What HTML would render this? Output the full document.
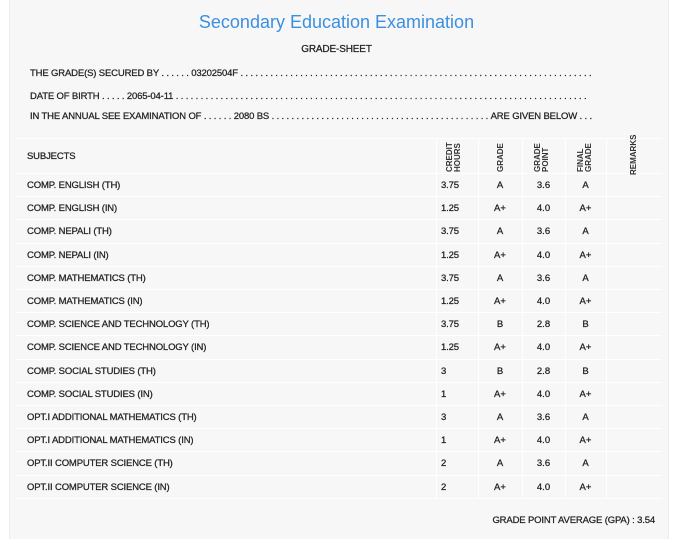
<!DOCTYPE html>
<html><head><meta charset="utf-8"><style>
body{margin:0;width:673px;height:539px;background:#fff;position:relative;overflow:hidden;font-family:"Liberation Sans Narrow","Liberation Sans",sans-serif;color:#222;}
.panel{position:absolute;left:9px;top:0;width:658px;height:539px;background:#f7f7f7;border-left:1px solid #ececec;border-right:1px solid #ececec;}
.t,.c,.dl{-webkit-text-stroke:0.25px #222;}
.t{position:absolute;font-size:9.5px;letter-spacing:-0.15px;white-space:nowrap;line-height:12px;}
.title{position:absolute;left:0;width:673px;top:12px;text-align:center;font-family:"Liberation Sans",sans-serif;font-size:18px;color:#3b8fe0;}
.hl{position:absolute;left:16px;width:646px;height:1px;background:#fff;}
.vl{position:absolute;width:1px;background:#fff;top:138px;height:361px;}
.c{position:absolute;font-size:9.5px;text-align:center;line-height:12px;}
.rot{position:absolute;font-family:"Liberation Sans",sans-serif;font-weight:bold;font-size:8px;line-height:8px;transform:rotate(-90deg);transform-origin:left top;white-space:nowrap;text-align:left;color:#333;}
.dl{position:absolute;left:30px;display:flex;font-size:9.5px;letter-spacing:-0.15px;line-height:12px;white-space:nowrap;}
.dl .f{flex:1;overflow:hidden;}
</style></head><body>
<div class="panel"></div>
<div class="title">Secondary Education Examination</div>
<div class="t" style="left:0;width:673px;text-align:center;top:44px;font-size:10px">GRADE-SHEET</div>
<div class="dl" style="top:68px;width:563px"><span>THE GRADE(S) SECURED BY . . . . . . 03202504F&nbsp;</span><span class="f">. . . . . . . . . . . . . . . . . . . . . . . . . . . . . . . . . . . . . . . . . . . . . . . . . . . . . . . . . . . . . . . . . . . . . . . . . . . . . . . . .</span></div>
<div class="dl" style="top:91px;width:557px"><span>DATE OF BIRTH . . . . . 2065-04-11&nbsp;</span><span class="f">. . . . . . . . . . . . . . . . . . . . . . . . . . . . . . . . . . . . . . . . . . . . . . . . . . . . . . . . . . . . . . . . . . . . . . . . . . . . . . . . . . . . . . . .</span></div>
<div class="dl" style="top:111px;width:562px"><span>IN THE ANNUAL SEE EXAMINATION OF . . . . . . 2080 BS&nbsp;</span><span class="f">. . . . . . . . . . . . . . . . . . . . . . . . . . . . . . . . . . . . . . . . . . . . . . . . . . . . . . . . . . . .</span><span>ARE GIVEN BELOW . . .</span></div>
<div class="hl" style="top:138px"></div>
<div class="hl" style="top:173px"></div>
<div class="vl" style="left:436px"></div><div class="vl" style="left:478px"></div><div class="vl" style="left:522px"></div><div class="vl" style="left:565px"></div><div class="vl" style="left:606px"></div>
<div class="t" style="left:27px;top:151px">SUBJECTS</div>
<div class="rot" style="left:446px;top:172px;width:34px">CREDIT<br>HOURS</div>
<div class="rot" style="left:497px;top:172px;width:30px">GRADE</div>
<div class="rot" style="left:534px;top:172px;width:30px">GRADE<br>POINT</div>
<div class="rot" style="left:577px;top:172px;width:30px">FINAL<br>GRADE</div>
<div class="rot" style="left:630px;top:175px;width:38px">REMARKS</div>
<div id="rows"></div>
<script>
var d=[["COMP. ENGLISH (TH)","3.75","A","3.6","A"],["COMP. ENGLISH (IN)","1.25","A+","4.0","A+"],["COMP. NEPALI (TH)","3.75","A","3.6","A"],["COMP. NEPALI (IN)","1.25","A+","4.0","A+"],["COMP. MATHEMATICS (TH)","3.75","A","3.6","A"],["COMP. MATHEMATICS (IN)","1.25","A+","4.0","A+"],["COMP. SCIENCE AND TECHNOLOGY (TH)","3.75","B","2.8","B"],["COMP. SCIENCE AND TECHNOLOGY (IN)","1.25","A+","4.0","A+"],["COMP. SOCIAL STUDIES (TH)","3","B","2.8","B"],["COMP. SOCIAL STUDIES (IN)","1","A+","4.0","A+"],["OPT.I ADDITIONAL MATHEMATICS (TH)","3","A","3.6","A"],["OPT.I ADDITIONAL MATHEMATICS (IN)","1","A+","4.0","A+"],["OPT.II COMPUTER SCIENCE (TH)","2","A","3.6","A"],["OPT.II COMPUTER SCIENCE (IN)","2","A+","4.0","A+"]];
var h="";
d.forEach(function(r,i){var y=173+i*23.2;
h+='<div class="t" style="left:27px;top:'+(y+7)+'px">'+r[0]+'</div>';
h+='<div class="t" style="left:441px;top:'+(y+7)+'px">'+r[1]+'</div>';
h+='<div class="c" style="left:478px;width:44px;top:'+(y+7)+'px">'+r[2]+'</div>';
h+='<div class="c" style="left:522px;width:43px;top:'+(y+7)+'px">'+r[3]+'</div>';
h+='<div class="c" style="left:565px;width:41px;top:'+(y+7)+'px">'+r[4]+'</div>';
h+='<div class="hl" style="top:'+Math.round(y+23.2)+'px"></div>';});
document.getElementById("rows").innerHTML=h;
</script>
<div class="t" style="right:18px;top:515px">GRADE POINT AVERAGE (GPA) : 3.54</div>
</body></html>
